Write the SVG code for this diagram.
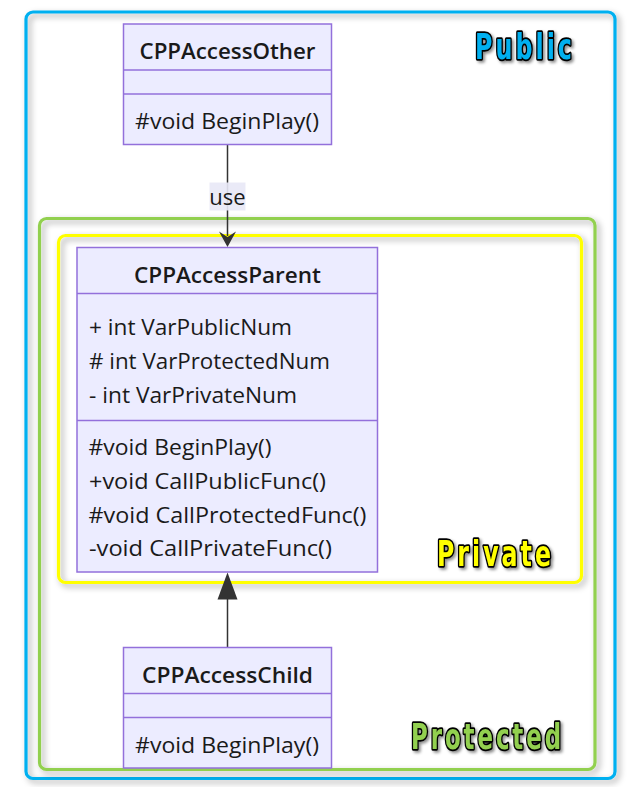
<svg xmlns="http://www.w3.org/2000/svg" width="642" height="787" viewBox="0 0 642 787">
<defs>
<filter id="fshadow" x="-5%" y="-5%" width="110%" height="110%">
<feDropShadow dx="3" dy="3" stdDeviation="3" flood-color="#000" flood-opacity="0.35"/>
</filter>
<filter id="tshadow" x="-10%" y="-20%" width="130%" height="150%">
<feDropShadow dx="2" dy="2" stdDeviation="1.5" flood-color="#000" flood-opacity="0.45"/>
</filter>
</defs>
<style>
.frame{fill:none;stroke-width:3.2;filter:url(#fshadow)}
.box{fill:#ececff;stroke:#9370db;stroke-width:1.5}
.t{font-family:"Open Sans","Noto Sans",sans-serif;font-size:22px;fill:#1a1a1a}
.title{font-weight:600;text-anchor:middle}
.lbl{font-family:"DejaVu Sans Condensed","DejaVu Sans",sans-serif;font-weight:bold;font-size:35px;letter-spacing:4px;stroke:#000;stroke-width:3.5;stroke-linejoin:round;paint-order:stroke fill;filter:url(#tshadow)}
.edge{stroke:#333;stroke-width:1.5;fill:none}
</style>
<rect width="642" height="787" fill="#fff"/>
<g id="frames">
<rect id="frame-public" class="frame" x="26" y="12" width="589" height="766.5" rx="7" stroke="#00b0f0"/>
<rect id="frame-protected" class="frame" x="39.5" y="218.5" width="555.5" height="551" rx="7" stroke="#92d050"/>
<rect id="frame-private" class="frame" x="58.5" y="235.5" width="523" height="347" rx="7" stroke="#ffff00"/>
<text class="lbl" x="475" y="59" textLength="100" lengthAdjust="spacingAndGlyphs" fill="#00b0f0">Public</text>
<text class="lbl" x="437" y="566" textLength="117" lengthAdjust="spacingAndGlyphs" fill="#ffff00">Private</text>
<text class="lbl" x="411" y="749" textLength="153" lengthAdjust="spacingAndGlyphs" fill="#92d050">Protected</text>
</g>
<g id="connectors">
<path class="edge" d="M227.5,144.5 V236"/>
<path d="M227.5,247 L219,231.5 L227.5,237 L236,231.5 Z" fill="#333"/>
<rect x="209.5" y="182.5" width="36" height="28" fill="#e8e8f6" opacity="0.9"/>
<text class="t" x="227.5" y="205" text-anchor="middle">use</text>
<path class="edge" d="M227.5,647.5 V598"/>
<path d="M227.5,572.5 L217.5,599.5 L237.5,599.5 Z" fill="#333"/>
</g>
<g id="CPPAccessOther">
<rect class="box" x="123.5" y="24" width="208" height="120.5"/>
<line class="box" x1="123.5" y1="70" x2="331.5" y2="70"/>
<line class="box" x1="123.5" y1="94" x2="331.5" y2="94"/>
<text class="t title" x="227.5" y="59" textLength="176" lengthAdjust="spacingAndGlyphs">CPPAccessOther</text>
<text class="t" x="135" y="128.5" textLength="184" lengthAdjust="spacingAndGlyphs">#void BeginPlay()</text>
</g>
<g id="CPPAccessParent">
<rect class="box" x="77" y="247.5" width="300.5" height="324.5"/>
<line class="box" x1="77" y1="293.5" x2="377.5" y2="293.5"/>
<line class="box" x1="77" y1="420.5" x2="377.5" y2="420.5"/>
<text class="t title" x="227.5" y="283" textLength="187" lengthAdjust="spacingAndGlyphs">CPPAccessParent</text>
<text class="t" x="89" y="335" textLength="203" lengthAdjust="spacingAndGlyphs">+ int VarPublicNum</text>
<text class="t" x="89" y="368.5" textLength="241" lengthAdjust="spacingAndGlyphs"># int VarProtectedNum</text>
<text class="t" x="89" y="402.5" textLength="208" lengthAdjust="spacingAndGlyphs">- int VarPrivateNum</text>
<text class="t" x="88.5" y="455" textLength="183" lengthAdjust="spacingAndGlyphs">#void BeginPlay()</text>
<text class="t" x="89" y="488.5" textLength="237" lengthAdjust="spacingAndGlyphs">+void CallPublicFunc()</text>
<text class="t" x="88.5" y="522.5" textLength="278" lengthAdjust="spacingAndGlyphs">#void CallProtectedFunc()</text>
<text class="t" x="89" y="556" textLength="243" lengthAdjust="spacingAndGlyphs">-void CallPrivateFunc()</text>
</g>
<g id="CPPAccessChild">
<rect class="box" x="123.5" y="647.5" width="208" height="120.5"/>
<line class="box" x1="123.5" y1="693.5" x2="331.5" y2="693.5"/>
<line class="box" x1="123.5" y1="717.5" x2="331.5" y2="717.5"/>
<text class="t title" x="227.5" y="682.5" textLength="171" lengthAdjust="spacingAndGlyphs">CPPAccessChild</text>
<text class="t" x="135" y="752.5" textLength="184" lengthAdjust="spacingAndGlyphs">#void BeginPlay()</text>
</g>
</svg>
